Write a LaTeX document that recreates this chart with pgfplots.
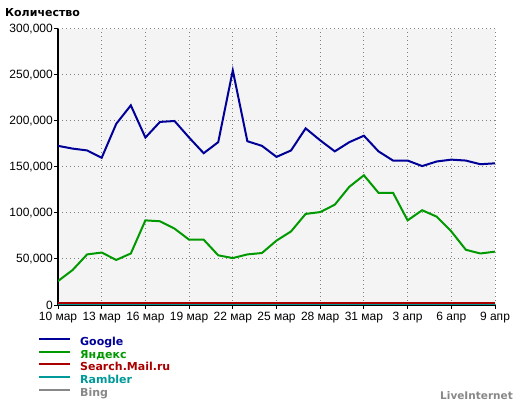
\documentclass[border=0pt]{standalone}
\usepackage{fontspec}
\setmainfont{Liberation Sans}
\newfontfamily\dvs{DejaVu Sans}
\usepackage{pgfplots}
\pgfplotsset{compat=1.18}
\definecolor{cgoogle}{HTML}{000099}
\definecolor{cyandex}{HTML}{009900}
\definecolor{cmail}{HTML}{AA0000}
\definecolor{crambler}{HTML}{009999}
\definecolor{cbing}{HTML}{888888}
\definecolor{bgc}{HTML}{F4F4F4}
\definecolor{gridc}{HTML}{808080}
\begin{document}
\begin{tikzpicture}
\path[use as bounding box, fill=white] (0,0) rectangle (520bp,405bp);
\node[anchor=base west, inner sep=0pt, font=\dvs\bfseries\fontsize{11bp}{13bp}\selectfont] at (5bp,388bp) {Количество};
\node[anchor=base east, inner sep=0pt, text=cbing, font=\dvs\bfseries\fontsize{10.5bp}{12bp}\selectfont] at (513bp,6bp) {LiveInternet};
\begin{axis}[
  at={(58bp,100bp)}, anchor=south west,
  scale only axis, width=437bp, height=276bp,
  xmin=0, xmax=30, ymin=0, ymax=300000,
  axis x line*=bottom, axis y line*=left,
  axis line style={-, line width=2bp, black},
  axis background/.style={fill=bgc},
  xtick={0,3,...,30},
  xticklabels={10 мар,13 мар,16 мар,19 мар,22 мар,25 мар,28 мар,31 мар,3 апр,6 апр,9 апр},
  ytick={0,50000,100000,150000,200000,250000,300000},
  yticklabels={0,{50,000},{100,000},{150,000},{200,000},{250,000},{300,000}},
  scaled y ticks=false,
  tick align=outside,
  major tick length=4bp,
  tick style={black, line width=1bp},
  grid=major,
  major grid style={gridc, line width=1bp, dash pattern=on 1bp off 3bp},
  ticklabel style={font=\fontsize{12bp}{14bp}\selectfont, inner sep=0pt},
  xticklabel style={anchor=north, yshift=-3bp},
  yticklabel style={anchor=east, xshift=-1bp},
  legend style={at={(-0.0458,-0.1141)}, anchor=north west, draw=none, fill=none,
    inner sep=0pt, outer sep=0pt, row sep=0pt, column sep=0pt,
    font=\dvs\bfseries\fontsize{11bp}{13bp}\selectfont,
    nodes={inner sep=0pt, text height=9bp, text depth=3.75bp}},
  legend cell align=left,
  legend image code/.code={\draw[#1, line width=2bp] (0bp,4bp) -- (31bp,4bp); \path (41bp,4bp);},
]
\addlegendimage{cgoogle}\addlegendentry{\textcolor{cgoogle}{Google}}
\addlegendimage{cyandex}\addlegendentry{\textcolor{cyandex}{Яндекс}}
\addlegendimage{cmail}\addlegendentry{\textcolor{cmail}{Search.Mail.ru}}
\addlegendimage{crambler}\addlegendentry{\textcolor{crambler}{Rambler}}
\addlegendimage{cbing}\addlegendentry{\textcolor{cbing}{Bing}}
% Bing
\addplot[cbing, line width=2bp, forget plot] coordinates {
(0,200)(1,200)(2,200)(3,200)(4,200)(5,200)(6,200)(7,200)(8,200)(9,200)(10,200)(11,200)(12,200)(13,200)(14,200)(15,200)(16,200)(17,200)(18,200)(19,200)(20,200)(21,200)(22,200)(23,200)(24,200)(25,200)(26,200)(27,200)(28,200)(29,200)(30,200)};
% Rambler
\addplot[crambler, line width=2bp, forget plot] coordinates {
(0,400)(1,400)(2,400)(3,400)(4,400)(5,400)(6,400)(7,400)(8,400)(9,400)(10,400)(11,400)(12,400)(13,400)(14,400)(15,400)(16,400)(17,400)(18,400)(19,400)(20,400)(21,400)(22,400)(23,400)(24,400)(25,400)(26,400)(27,400)(28,400)(29,400)(30,400)};
% Google
\addplot[cgoogle, line width=2bp, forget plot] coordinates {
(0,173000)(1,170000)(2,168000)(3,160000)(4,197000)(5,217000)(6,182000)(7,199000)(8,200000)(9,182000)(10,165000)(11,177000)(12,255000)(13,178000)(14,173000)(15,161000)(16,168000)(17,192000)(18,179000)(19,167000)(20,177000)(21,184000)(22,167000)(23,157000)(24,157000)(25,151000)(26,156000)(27,158000)(28,157000)(29,153000)(30,154000)};
% Yandex
\addplot[cyandex, line width=2bp, forget plot] coordinates {
(0,26000)(1,38000)(2,55000)(3,57000)(4,49000)(5,56000)(6,92000)(7,91000)(8,83000)(9,71000)(10,71000)(11,54000)(12,51000)(13,55000)(14,56500)(15,70000)(16,80000)(17,99000)(18,101000)(19,109000)(20,128500)(21,141000)(22,122000)(23,122000)(24,92000)(25,103000)(26,96000)(27,80000)(28,60000)(29,56000)(30,58000)};
% Search.Mail.ru
\addplot[cmail, line width=2bp, forget plot] coordinates {
(0,1800)(1,1800)(2,1800)(3,1800)(4,1800)(5,1800)(6,1800)(7,1800)(8,1800)(9,1800)(10,1800)(11,1800)(12,1800)(13,1800)(14,1800)(15,1800)(16,1800)(17,1800)(18,1800)(19,1800)(20,1800)(21,1800)(22,1800)(23,1800)(24,1800)(25,1800)(26,1800)(27,1800)(28,1800)(29,1800)(30,1800)};
\end{axis}
\end{tikzpicture}
\end{document}
